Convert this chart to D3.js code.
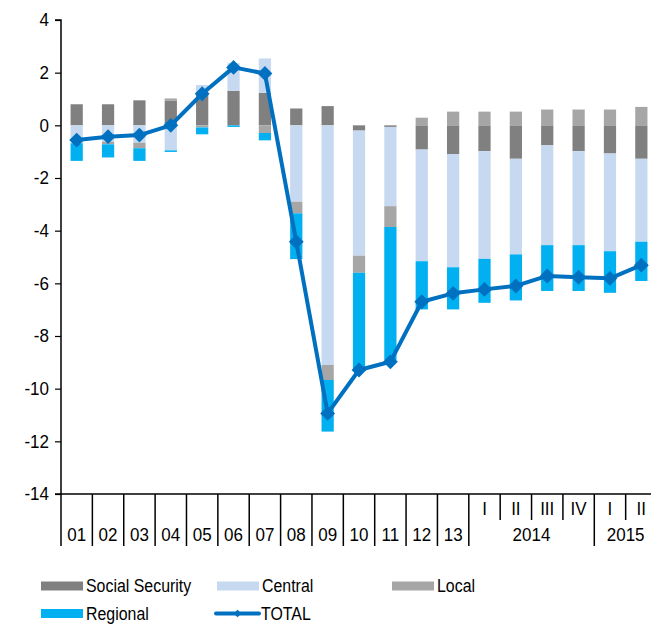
<!DOCTYPE html>
<html>
<head>
<meta charset="utf-8">
<script src="https://cdn.jsdelivr.net/npm/d3@7"></script>
<style>
  html, body { margin: 0; padding: 0; background: #fff; }
  svg { display: block; }
  text { font-family: "Liberation Sans", Arial, sans-serif; fill: #000; }
</style>
</head>
<body>
<svg id="chart" width="651" height="625"></svg>
<script>
// ---- data ----
const categories = ["01","02","03","04","05","06","07","08","09","10","11","12","13",
                    "2014-I","2014-II","2014-III","2014-IV","2015-I","2015-II"];
const tickLabels = ["01","02","03","04","05","06","07","08","09","10","11","12","13",
                    "I","II","III","IV","I","II"];
const yearGroups = [
  { label: "2014", first: 13, last: 16 },
  { label: "2015", first: 17, last: 18 }
];
const socialSecurity = [0.80, 0.80, 0.95, 0.93, 1.22, 1.31, 1.23, 0.64, 0.73, -0.20, -0.06, -0.92, -1.09, -0.98, -1.27, -0.76, -0.98, -1.07, -1.27];
const central        = [-0.68, -0.62, -0.66, -0.95, 0.31, 1.05, 1.31, -2.90, -9.10, -4.75, -3.01, -4.24, -4.30, -4.09, -3.63, -3.79, -3.57, -3.71, -3.15];
const local          = [0.00, -0.10, -0.21, 0.09, -0.08, 0.00, -0.29, -0.44, -0.57, -0.65, -0.79, 0.29, 0.52, 0.52, 0.52, 0.60, 0.60, 0.60, 0.70];
const regional       = [-0.67, -0.50, -0.48, -0.06, -0.26, -0.06, -0.28, -1.74, -1.96, -3.70, -5.07, -1.83, -1.60, -1.67, -1.75, -1.74, -1.74, -1.58, -1.49];
const total          = [-0.56, -0.43, -0.37, 0.00, 1.20, 2.20, 1.97, -4.42, -10.94, -9.29, -8.98, -6.70, -6.38, -6.23, -6.10, -5.72, -5.77, -5.81, -5.31];
const yTicks = [4, 2, 0, -2, -4, -6, -8, -10, -12, -14];

const seriesNames = ["Social Security", "Central", "Local", "Regional"];
const seriesColors = ["#808080", "#c6d9f1", "#a6a6a6", "#00b0f0"];
const totalColor = "#0070c0";

// ---- layout ----
const svg = d3.select("#chart");
const left = 61, plotTop = 20, plotBottom = 494;
const step = 31.37;
const right = left + step * categories.length;

const x = d3.scaleBand().domain(categories).range([left, right])
  .paddingInner(0.61).paddingOuter(0.305);
const y = d3.scaleLinear().domain([-14, 4]).range([plotBottom, plotTop]);

// helper: condensed text
function label(g, tx, ty, str, size, sx, anchor) {
  return g.append("text")
    .attr("transform", `translate(${tx},${ty}) scale(${sx},1)`)
    .attr("text-anchor", anchor || "start")
    .attr("dy", "0.35em")
    .style("font-size", size + "px")
    .text(str);
}

// stacked table
const table = categories.map((c, i) => ({
  cat: c,
  "Social Security": socialSecurity[i],
  "Central": central[i],
  "Local": local[i],
  "Regional": regional[i]
}));
const stacked = d3.stack().keys(seriesNames).offset(d3.stackOffsetDiverging)(table);

// bars
const gBars = svg.append("g");
stacked.forEach((s, si) => {
  gBars.selectAll(null).data(s).join("rect")
    .attr("x", d => x(d.data.cat))
    .attr("width", x.bandwidth())
    .attr("y", d => y(Math.max(d[0], d[1])))
    .attr("height", d => Math.abs(y(d[0]) - y(d[1])))
    .attr("fill", seriesColors[si]);
});

// y axis
const yAxis = d3.axisLeft(y).tickValues(yTicks).tickSize(6).tickFormat("");
const gy = svg.append("g").attr("transform", `translate(${left},0)`).call(yAxis);
gy.select(".domain").attr("stroke", "#000").attr("stroke-width", 1.5).attr("d", `M-6,${plotTop}H0V${plotBottom}`);
gy.selectAll(".tick line").attr("stroke", "#000").attr("stroke-width", 1.2);
const gyl = svg.append("g");
yTicks.forEach(t => label(gyl, 49, y(t), t, 18.5, 0.92, "end"));

// x axis line
svg.append("line").attr("x1", left - 6).attr("x2", 651).attr("y1", plotBottom).attr("y2", plotBottom)
  .attr("stroke", "#000").attr("stroke-width", 1.5);

// separators
const gx = svg.append("g");
const longBounds = new Set([0,1,2,3,4,5,6,7,8,9,10,11,12,13,17,19]);
for (let i = 0; i <= categories.length; i++) {
  const bx = left + i * step;
  const isLong = longBounds.has(i);
  gx.append("line").attr("x1", bx).attr("x2", bx)
    .attr("y1", plotBottom).attr("y2", isLong ? 546 : 520)
    .attr("stroke", "#000").attr("stroke-width", 1.5);
}
// category labels
categories.forEach((c, i) => {
  const cx = x(c) + x.bandwidth() / 2;
  const isQuarter = i >= 13;
  label(gx, cx, isQuarter ? 509 : 535, tickLabels[i], 18.5, 0.92, "middle");
});
yearGroups.forEach(g => {
  const x0 = left + g.first * step, x1 = left + (g.last + 1) * step;
  label(gx, (x0 + x1) / 2, 535, g.label, 18.5, 0.92, "middle");
});

// total line
const line = d3.line().x((d, i) => x(categories[i]) + x.bandwidth() / 2).y(d => y(d));
svg.append("path").datum(total).attr("d", line)
  .attr("fill", "none").attr("stroke", totalColor).attr("stroke-width", 4).attr("stroke-linejoin", "round");
const diamond = d3.symbol().type(d3.symbolSquare).size(110);
svg.selectAll(null).data(total).join("path")
  .attr("d", diamond)
  .attr("transform", (d, i) => `translate(${x(categories[i]) + x.bandwidth() / 2},${y(d)}) rotate(45)`)
  .attr("fill", totalColor);

// legend
const legend = svg.append("g");
const legItems = [
  { name: "Social Security", color: seriesColors[0], x: 41, y: 586, type: "rect" },
  { name: "Central", color: seriesColors[1], x: 217, y: 586, type: "rect" },
  { name: "Local", color: seriesColors[2], x: 392, y: 586, type: "rect" },
  { name: "Regional", color: seriesColors[3], x: 41, y: 613.5, type: "rect" },
  { name: "TOTAL", color: totalColor, x: 216, y: 613.5, type: "line" }
];
legItems.forEach(it => {
  if (it.type === "rect") {
    legend.append("rect").attr("x", it.x).attr("y", it.y - 4.5).attr("width", 42).attr("height", 9).attr("fill", it.color);
  } else {
    legend.append("line").attr("x1", it.x).attr("x2", it.x + 43).attr("y1", it.y).attr("y2", it.y)
      .attr("stroke", it.color).attr("stroke-width", 4).attr("stroke-linecap", "round");
    legend.append("path").attr("d", d3.symbol().type(d3.symbolSquare).size(30))
      .attr("transform", `translate(${it.x + 21.5},${it.y}) rotate(45)`).attr("fill", it.color);
  }
  label(legend, it.x + 45, it.y, it.name, 18.5, 0.86, "start");
});
</script>
</body>
</html>
